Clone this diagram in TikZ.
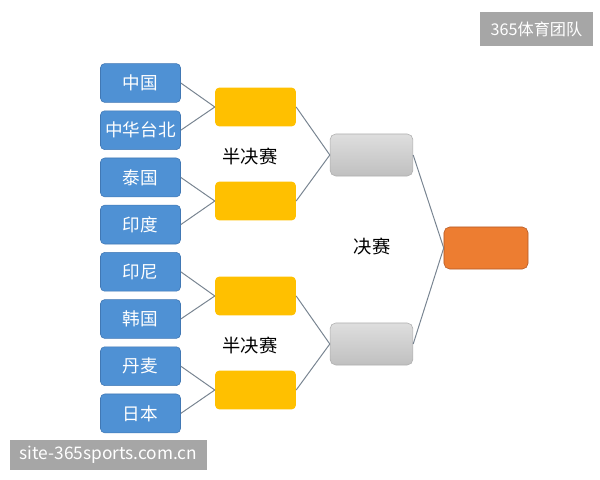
\documentclass[tikz,border=0pt]{standalone}
\usepackage{fontspec}
\setmainfont{Noto Sans CJK SC}
\newfontfamily\cjk{Noto Sans CJK SC}
\usepackage{xcolor}
\definecolor{tmblue}{RGB}{79,145,212}
\definecolor{tmblueedge}{RGB}{65,120,180}
\definecolor{tmyellow}{RGB}{255,192,0}
\definecolor{tmgrayhi}{RGB}{222,222,222}
\definecolor{tmgraylo}{RGB}{192,192,192}
\definecolor{tmgrayedge}{RGB}{175,175,175}
\definecolor{tmorange}{RGB}{237,125,49}
\definecolor{tmorangeedge}{RGB}{180,90,40}
\definecolor{tmline}{RGB}{120,132,145}
\definecolor{tmmark}{RGB}{166,166,166}
\usetikzlibrary{positioning}

\begin{document}
\begin{tikzpicture}[x=0.025cm,y=-0.025cm,
  team/.style={draw=tmblueedge,fill=tmblue,rounded corners=3pt,minimum width=2cm,minimum height=0.97cm,text=white,font=\cjk\fontsize{12.5}{13}\selectfont},
  semi/.style={fill=tmyellow,rounded corners=3pt,minimum width=2.02cm,minimum height=0.97cm},
  final/.style={draw=tmgrayedge,top color=tmgrayhi,bottom color=tmgraylo,rounded corners=4pt,minimum width=2.07cm,minimum height=1.05cm},
  champ/.style={draw=tmorangeedge,fill=tmorange,rounded corners=4pt,minimum width=2.1cm,minimum height=1.05cm},
  lbl/.style={font=\cjk\fontsize{13}{14}\selectfont},
  wmark/.style={fill=tmmark,text=white,inner sep=0pt,font=\cjk\fontsize{11.5}{12}\selectfont},
  link/.style={draw=tmline,line width=0.7pt}]
  \useasboundingbox (0,0) rectangle (600,480);
  % teams
  \node[team] (t1) at (140.5,83) {中国};
  \node[team] (t2) at (140.5,130.2) {中华台北};
  \node[team] (t3) at (140.5,177.4) {泰国};
  \node[team] (t4) at (140.5,224.6) {印度};
  \node[team] (t5) at (140.5,271.8) {印尼};
  \node[team] (t6) at (140.5,319) {韩国};
  \node[team] (t7) at (140.5,366.2) {丹麦};
  \node[team] (t8) at (140.5,413.4) {日本};
  % semi-finals
  \node[semi] (q1) at (255.5,107) {};
  \node[semi] (q2) at (255.5,201) {};
  \node[semi] (q3) at (255.5,296) {};
  \node[semi] (q4) at (255.5,390) {};
  % finals
  \node[final] (f1) at (371.5,155) {};
  \node[final] (f2) at (371.5,344) {};
  \node[champ] (w) at (486,248) {};
  % labels
  \node[lbl] (l1) at (250,157) {半决赛};
  \node[lbl] (l2) at (250,346) {半决赛};
  \node[lbl] (l3) at (372,247) {决赛};
  % links
  \foreach \a/\b in {t1/q1,t2/q1,t3/q2,t4/q2,t5/q3,t6/q3,t7/q4,t8/q4,q1/f1,q2/f1,q3/f2,q4/f2,f1/w,f2/w}
    \draw[link] (\a.east) -- (\b.west);
  % watermarks
  \node[wmark,minimum width=2.83cm,minimum height=0.85cm] (m1) at (536.5,29) {365体育团队};
  \node[wmark,minimum width=4.93cm,minimum height=0.75cm,font=\cjk\fontsize{12.3}{13}\selectfont] (m2) at (108.5,455) {site-365sports.com.cn};
\end{tikzpicture}
\end{document}
